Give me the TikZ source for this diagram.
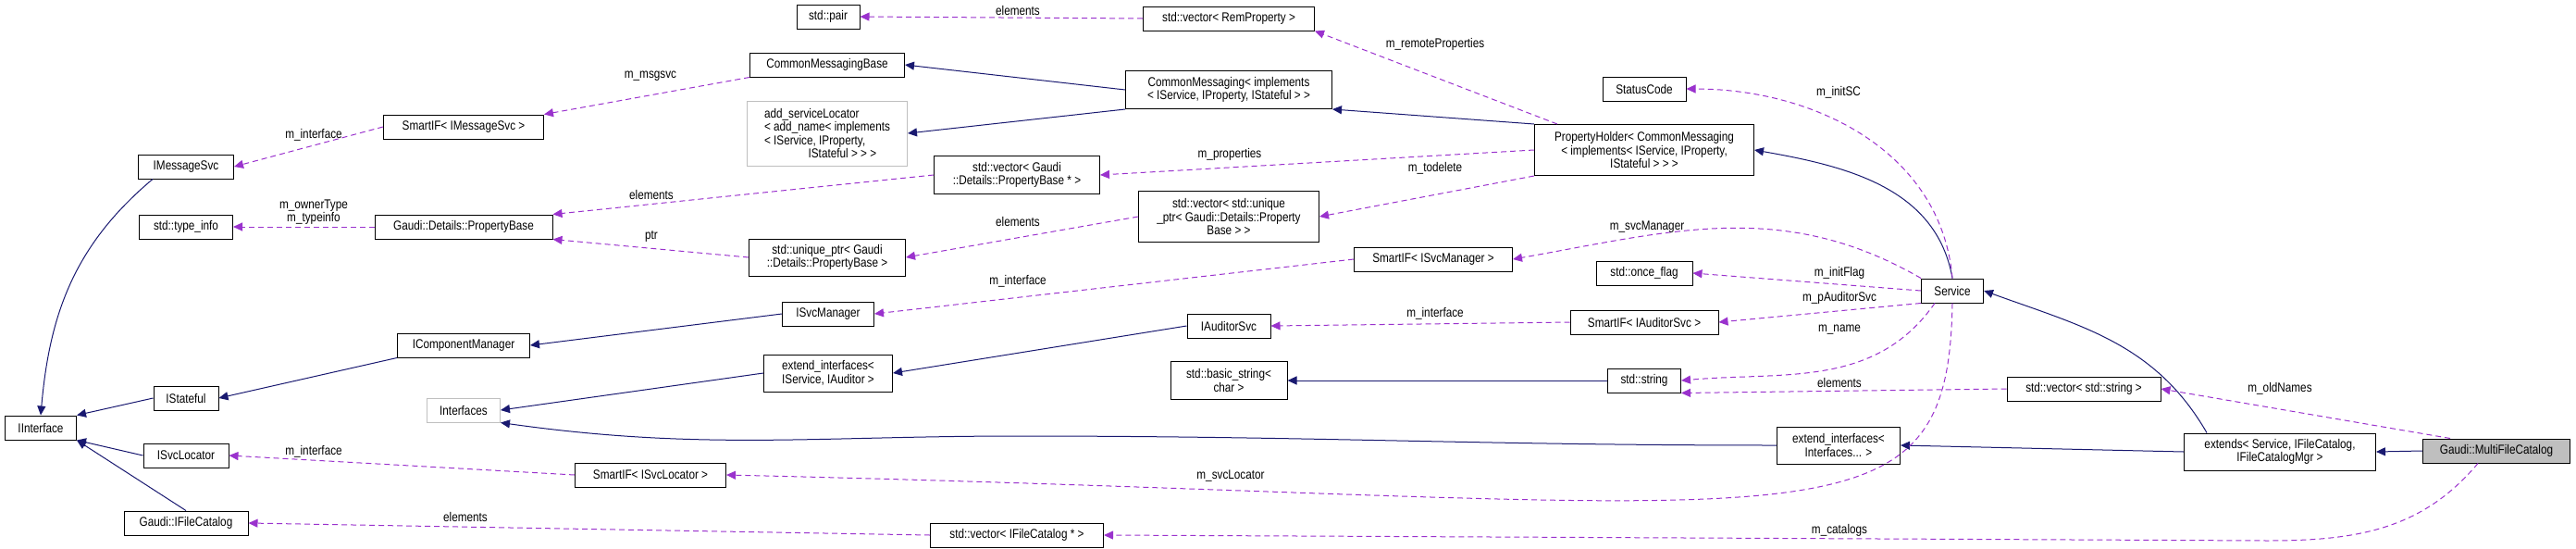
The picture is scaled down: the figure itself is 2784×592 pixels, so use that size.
\documentclass[tikz,border=0pt]{standalone}
\usepackage{fontspec}
\setmainfont{Liberation Sans}[FakeStretch=0.84]
\usepackage{tikz}
\usetikzlibrary{arrows.meta}
\definecolor{inhblue}{RGB}{25,25,112}
\definecolor{usepurple}{RGB}{154,50,205}
\definecolor{boxgray}{RGB}{191,191,191}

\begin{document}
\begin{tikzpicture}[x=1pt,y=-1pt,
  font=\fontsize{14}{14.5}\selectfont,
  cls/.style={draw=black,line width=1pt,fill=white,inner sep=2pt,minimum height=26pt,align=center},
  ext/.style={cls,draw=boxgray},
  lbl/.style={inner sep=0pt},
  inh/.style={draw=inhblue,line width=1pt,-{Triangle[length=10pt,width=9pt,fill=inhblue]}},
  use/.style={draw=usepurple,line width=1pt,dash pattern=on 6pt off 4pt,-{Triangle[length=10pt,width=9pt,fill=usepurple]}}]
\useasboundingbox (0,0) rectangle (2784,592);

% left column
\begin{scope}
  \node[cls,minimum width=77] (IInterface) at (44,462) {IInterface};
  \node[cls,minimum width=103] (IMessageSvc) at (201,180) {IMessageSvc};
  \node[cls,minimum width=101] (typeinfo) at (201,245) {std::type\_info};
  \node[cls,minimum width=70] (IStateful) at (201,430) {IStateful};
  \node[cls,minimum width=92] (ISvcLocator) at (201,492) {ISvcLocator};
  \node[cls,minimum width=134] (IFileCatalog) at (201,565) {Gaudi::IFileCatalog};
\end{scope}

% second column
\begin{scope}
  \node[cls,minimum width=173] (SmartMsg) at (501,137) {SmartIF\textless{} IMessageSvc \textgreater};
  \node[cls,minimum width=192] (PropBase) at (501,245) {Gaudi::Details::PropertyBase};
  \node[cls,minimum width=143] (ICompMgr) at (501,373) {IComponentManager};
  \node[ext,minimum width=79] (Interfaces) at (501,443) {Interfaces};
  \node[cls,minimum width=163] (SmartLoc) at (703,513) {SmartIF\textless{} ISvcLocator \textgreater};
\end{scope}

% third column
\begin{scope}
  \node[cls,minimum width=68] (pair) at (895,18) {std::pair};
  \node[cls,minimum width=167] (CMBase) at (894,70) {CommonMessagingBase};
  \node[ext,minimum width=173,minimum height=70,align=left] (addSL) at (894,144)
    {add\_serviceLocator\\\textless{} add\_name\textless{} implements\\\textless{} IService, IProperty,\\\hspace{3.4em}IStateful \textgreater{} \textgreater{} \textgreater};
  \node[cls,minimum width=169,minimum height=40] (uptr) at (894,278) {std::unique\_ptr\textless{} Gaudi\\::Details::PropertyBase \textgreater};
  \node[cls,minimum width=99] (ISvcMgr) at (895,339) {ISvcManager};
  \node[cls,minimum width=139,minimum height=40] (extIA) at (895,403) {extend\_interfaces\textless\\IService, IAuditor \textgreater};
\end{scope}

% fourth column
\begin{scope}
  \node[cls,minimum width=179,minimum height=41] (vecPB) at (1099,189) {std::vector\textless{} Gaudi\\::Details::PropertyBase * \textgreater};
  \node[cls,minimum width=187] (vecFC) at (1099,578) {std::vector\textless{} IFileCatalog * \textgreater};
\end{scope}

% fifth column
\begin{scope}
  \node[cls,minimum width=185] (vecRem) at (1328,20) {std::vector\textless{} RemProperty \textgreater};
  \node[cls,minimum width=223,minimum height=41] (CM) at (1328,97) {CommonMessaging\textless{} implements\\\textless{} IService, IProperty, IStateful \textgreater{} \textgreater};
  \node[cls,minimum width=195,minimum height=55] (vecUP) at (1328,234) {std::vector\textless{} std::unique\\\_ptr\textless{} Gaudi::Details::Property\\Base \textgreater{} \textgreater};
  \node[cls,minimum width=90] (IAudSvc) at (1328,352) {IAuditorSvc};
  \node[cls,minimum width=126,minimum height=41] (bstring) at (1328,411) {std::basic\_string\textless\\char \textgreater};
  \node[cls,minimum width=171] (SmartMgr) at (1549,280) {SmartIF\textless{} ISvcManager \textgreater};
\end{scope}

% sixth column
\begin{scope}
  \node[cls,minimum width=90] (StatusCode) at (1777,96) {StatusCode};
  \node[cls,minimum width=237,minimum height=55] (PropHolder) at (1777,162) {PropertyHolder\textless{} CommonMessaging\\\textless{} implements\textless{} IService, IProperty,\\IStateful \textgreater{} \textgreater{} \textgreater};
  \node[cls,minimum width=104] (onceflag) at (1777,295) {std::once\_flag};
  \node[cls,minimum width=160] (SmartAud) at (1777,348) {SmartIF\textless{} IAuditorSvc \textgreater};
  \node[cls,minimum width=79] (string) at (1777,411) {std::string};
  \node[cls,minimum width=133,minimum height=40] (extIF) at (1987,481) {extend\_interfaces\textless\\Interfaces... \textgreater};
\end{scope}

% right part
\begin{scope}
  \node[cls,minimum width=67] (Service) at (2110,314) {Service};
  \node[cls,minimum width=166] (vecStr) at (2252,420) {std::vector\textless{} std::string \textgreater};
  \node[cls,minimum width=207,minimum height=40] (extends) at (2464,488) {extends\textless{} Service, IFileCatalog,\\IFileCatalogMgr \textgreater};
  \node[cls,fill=boxgray,minimum width=159] (MFC) at (2698,487) {Gaudi::MultiFileCatalog};
\end{scope}

% inheritance
\path (IMessageSvc.south west) ++(16,0) coordinate (ims);
\draw[inh] (ims) to[out=-140,in=85] (IInterface.north);
\draw[inh] (IStateful.west) -- (IInterface.north east);
\draw[inh] (ISvcLocator.west) -- (IInterface.south east);
\draw[inh] (IFileCatalog.north) -- (IInterface.south east);
\draw[inh] (ICompMgr.south west) -- (IStateful.east);
\draw[inh] (ISvcMgr.west) -- (ICompMgr.east);
\draw[inh] (extIA.west) -- (Interfaces.east);
\draw[inh] (IAudSvc.west) -- (extIA.east);
\draw[inh] (CM.west) -- (CMBase.east);
\draw[inh] (CM.south west) -- (addSL.east);
\draw[inh] (PropHolder.north west) -- (CM.south east);
\draw[inh] (Service.north) to[out=100,in=-10] (PropHolder.east);
\draw[inh] (string.west) -- (bstring.east);
\draw[inh] (extIF.west) to[out=180,in=0] (1100,471) to[out=180,in=-8] (Interfaces.south east);
\draw[inh] (extends.north west) ++(25,0) to[out=120,in=-20] (Service.east);
\draw[inh] (extends.west) -- (extIF.east);
\draw[inh] (MFC.west) -- (extends.east);

% members
\draw[use] (SmartMsg.west) -- (IMessageSvc.east);
\draw[use] (CMBase.south west) -- (SmartMsg.north east);
\draw[use] (vecRem.west) -- (pair.east);
\draw[use] (PropHolder.north west) ++(25,0) -- (vecRem.south east);
\draw[use] (PropHolder.west) -- (vecPB.east);
\draw[use] (PropHolder.south west) -- (vecUP.east);
\draw[use] (vecPB.west) -- (PropBase.north east);
\draw[use] (uptr.west) -- (PropBase.south east);
\draw[use] (PropBase.west) -- (typeinfo.east);
\draw[use] (vecUP.west) -- (uptr.east);
\draw[use] (SmartMgr.west) -- (ISvcMgr.east);
\draw[use] (Service.north west) to[out=150,in=10] (SmartMgr.east);
\draw[use] (Service.north) to[out=95,in=0] (StatusCode.east);
\draw[use] (Service.west) -- (onceflag.east);
\draw[use] (Service.south west) -- (SmartAud.east);
\draw[use] (SmartAud.west) -- (IAudSvc.east);
\draw[use] (Service.south west) ++(15,0) to[out=-125,in=5] (string.east);
\draw[use] (vecStr.west) -- (string.south east);
\draw[use] (MFC.north west) ++(30,0) -- (vecStr.east);
\draw[use] (Service.south) .. controls (2105,610) and (1960,540) .. (SmartLoc.east);
\draw[use] (SmartLoc.west) -- (ISvcLocator.east);
\draw[use] (vecFC.west) -- (IFileCatalog.east);
\draw[use] (MFC.south) ++(-20,0) to[out=-130,in=0] (2450,584) -- (vecFC.east);

% labels
\node[lbl] (l1) at (703,82) {m\_msgsvc};
\node[lbl] (l2) at (339,146) {m\_interface};
\node[lbl,align=center] (l3) at (339,229) {m\_ownerType\\m\_typeinfo};
\node[lbl] (l4) at (704,210) {elements};
\node[lbl] (l5) at (704,255) {ptr};
\node[lbl] (l6) at (339,488) {m\_interface};
\node[lbl] (l7) at (503,558) {elements};
\node[lbl] (l8) at (1100,11) {elements};
\node[lbl] (l9) at (1551,48) {m\_remoteProperties};
\node[lbl] (l10) at (1329,167) {m\_properties};
\node[lbl] (l11) at (1551,182) {m\_todelete};
\node[lbl] (l12) at (1100,239) {elements};
\node[lbl] (l13) at (1100,304) {m\_interface};
\node[lbl] (l14) at (1551,339) {m\_interface};
\node[lbl] (l15) at (1330,514) {m\_svcLocator};
\node[lbl] (l16) at (1780,245) {m\_svcManager};
\node[lbl] (l17) at (1987,100) {m\_initSC};
\node[lbl] (l18) at (1988,295) {m\_initFlag};
\node[lbl] (l19) at (1988,322) {m\_pAuditorSvc};
\node[lbl] (l20) at (1988,356) {m\_name};
\node[lbl] (l21) at (1988,413) {elements};
\node[lbl] (l22) at (2464,420) {m\_oldNames};
\node[lbl] (l23) at (1988,573) {m\_catalogs};
\end{tikzpicture}
\end{document}
